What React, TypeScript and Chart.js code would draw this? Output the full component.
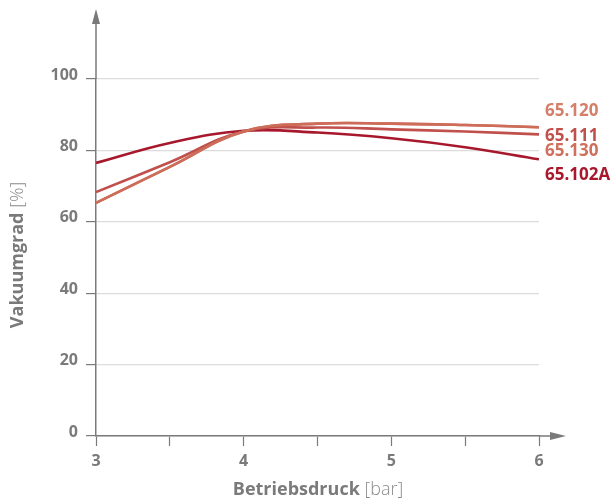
import React, { useEffect, useRef } from "react";
import { Chart, registerables } from "chart.js";

Chart.register(...registerables);

const pressures = [3, 3.5, 4, 4.5, 5, 5.5, 6];
const seriesNames = ["65.120", "65.111", "65.130", "65.102A"];
const v65120 = [65.3, 75.4, 85.3, 87.5, 87.5, 87.1, 86.5];
const v65111 = [68.3, 76.7, 85.3, 86.4, 85.9, 85.3, 84.5];
const v65130 = [65.3, 75.4, 85.3, 87.5, 87.5, 87.1, 86.5];
const v65102A = [76.5, 82.1, 85.5, 85.0, 83.4, 80.9, 77.5];
const yTicks = [0, 20, 40, 60, 80, 100];

const lineColors = ["#cd6d59", "#c0504c", "#cd6d59", "#a8182d"];
const labelColors = ["#d47f69", "#c0504c", "#cf705c", "#a8182d"];
const labelY = [111, 136, 151, 175];

const FONT = "'Open Sans', 'Noto Sans', sans-serif";
const GRAY = "#7a7a7a";

export default function App() {
  const ref = useRef<HTMLCanvasElement | null>(null);
  useEffect(() => {
    if (!ref.current) return;
    const allValues = [v65120, v65111, v65130, v65102A];
    const decor = {
      id: "decor",
      afterDraw(chart: any) {
        const ctx = chart.ctx;
        const x = chart.scales.x;
        const y = chart.scales.y;
        const ax = x.getPixelForValue(3);
        const ay = y.getPixelForValue(0);
        ctx.save();
        ctx.strokeStyle = GRAY;
        ctx.fillStyle = GRAY;
        ctx.lineWidth = 1.5;
        // y axis extension + arrow
        ctx.beginPath();
        ctx.moveTo(ax, chart.chartArea.top);
        ctx.lineTo(ax, 22);
        ctx.stroke();
        ctx.beginPath();
        ctx.moveTo(ax, 9);
        ctx.lineTo(ax - 4, 24);
        ctx.lineTo(ax + 4, 24);
        ctx.closePath();
        ctx.fill();
        // x axis extension + arrow
        ctx.beginPath();
        ctx.moveTo(chart.chartArea.right, ay);
        ctx.lineTo(552, ay);
        ctx.stroke();
        ctx.beginPath();
        ctx.moveTo(566, ay);
        ctx.lineTo(550, ay - 4);
        ctx.lineTo(550, ay + 4);
        ctx.closePath();
        ctx.fill();

        // series labels
        ctx.font = `bold 17px ${FONT}`;
        ctx.textAlign = "left";
        ctx.textBaseline = "middle";
        seriesNames.forEach((n, i) => {
          ctx.fillStyle = labelColors[i];
          ctx.fillText(n, 545, labelY[i]);
        });

        // axis titles with mixed weights
        const drawTitle = (bold: string, light: string, cx: number, cy: number, rot: number) => {
          ctx.save();
          ctx.translate(cx, cy);
          ctx.rotate(rot);
          ctx.textBaseline = "middle";
          ctx.textAlign = "left";
          ctx.font = `bold 18px ${FONT}`;
          const wb = ctx.measureText(bold).width;
          ctx.font = `300 18px ${FONT}`;
          const wl = ctx.measureText(light).width;
          const start = -(wb + wl) / 2;
          ctx.fillStyle = GRAY;
          ctx.font = `bold 18px ${FONT}`;
          ctx.fillText(bold, start, 0);
          ctx.fillStyle = "#8a8a8a";
          ctx.font = `300 18px ${FONT}`;
          ctx.fillText(light, start + wb, 0);
          ctx.restore();
        };
        drawTitle("Betriebsdruck", " [bar]", 318, 490, 0);
        drawTitle("Vakuumgrad", " [%]", 18, 255, -Math.PI / 2);
        ctx.restore();
      },
    };

    const chart = new Chart(ref.current, {
      type: "line",
      data: {
        datasets: seriesNames.map((n, i) => ({
          label: n,
          data: pressures.map((p, j) => ({ x: p, y: allValues[i][j] })),
          borderColor: lineColors[i],
          borderWidth: 2.6,
          pointRadius: 0,
          tension: 0.4,
          fill: false,
        })),
      },
      options: {
        animation: false,
        responsive: false,
        layout: { padding: { top: 79, right: 72, left: 0, bottom: 0 } },
        plugins: { legend: { display: false }, tooltip: { enabled: false } },
        scales: {
          x: {
            type: "linear",
            min: 3,
            max: 6,
            afterFit: (s: any) => { s.height = 65; },
            border: { display: true, color: GRAY, width: 1.5 },
            grid: { drawOnChartArea: false, drawTicks: true, tickLength: 10, tickColor: GRAY, tickWidth: 1.2 },
            ticks: {
              stepSize: 0.5,
              padding: 6,
              color: GRAY,
              font: { family: FONT, size: 16, weight: "bold" },
              callback: (v: any) => (Number.isInteger(v) ? String(v) : ""),
            },
          },
          y: {
            type: "linear",
            min: 0,
            max: 100,
            afterFit: (s: any) => { s.width = 96; },
            afterBuildTicks: (s: any) => { s.ticks = yTicks.map((v) => ({ value: v })); },
            border: { display: true, color: GRAY, width: 1.5 },
            grid: { color: "#dcdcdc", lineWidth: 1.2, tickLength: 10, tickColor: GRAY, tickWidth: 1.2 },
            ticks: {
              padding: 8,
              labelOffset: -4,
              color: GRAY,
              font: { family: FONT, size: 16, weight: "bold" },
            },
          },
        },
      },
      plugins: [decor],
    } as any);
    return () => chart.destroy();
  }, []);
  return (
    <div style={{ position: "absolute", left: 0, top: 0, width: 611, height: 501, background: "#fff" }}>
      <canvas ref={ref} width={611} height={501} />
    </div>
  );
}
